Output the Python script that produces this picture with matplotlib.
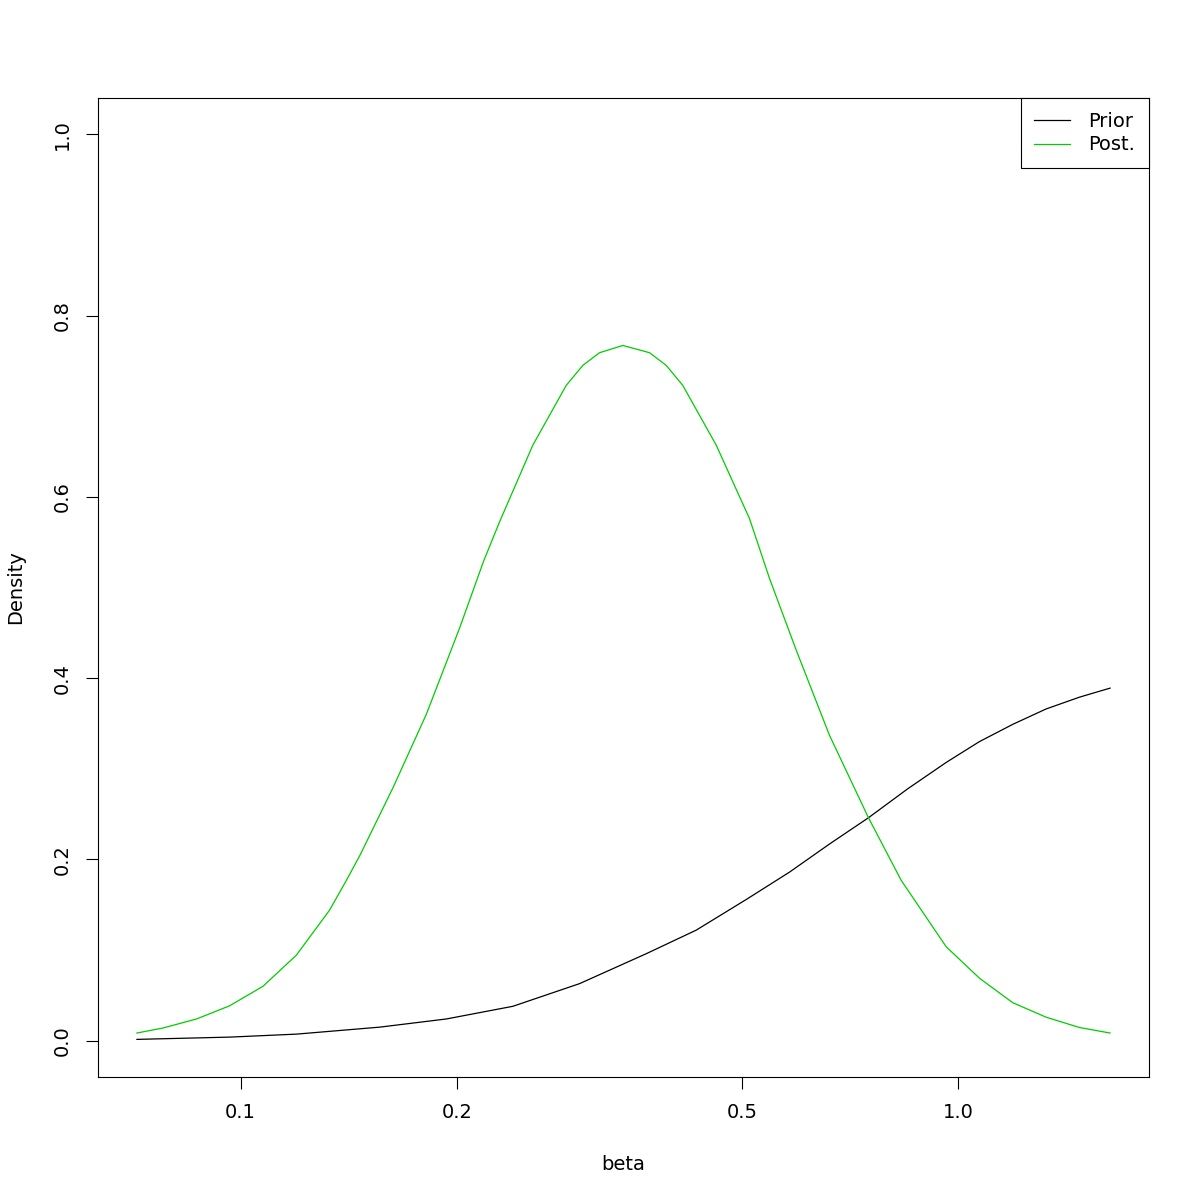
import numpy as np
import matplotlib
matplotlib.use('Agg')
import matplotlib.pyplot as plt

# Values (beta on a log axis, density)
prior_beta = [0.0717, 0.0965, 0.1196, 0.1562, 0.1934, 0.2395, 0.2966, 0.3673,
              0.4312, 0.5067, 0.5816, 0.6612, 0.7493, 0.8501, 0.9614, 1.0697,
              1.1901, 1.3247, 1.4741, 1.6265]
prior_dens = [0.0015, 0.004, 0.0073, 0.015, 0.024, 0.038, 0.063, 0.096,
              0.122, 0.156, 0.186, 0.217, 0.246, 0.278, 0.307, 0.330,
              0.349, 0.366, 0.379, 0.389]

post_beta = [0.0717, 0.0779, 0.0868, 0.0965, 0.1074, 0.1196, 0.1330, 0.1404,
             0.1465, 0.1630, 0.1814, 0.2018, 0.2180, 0.2295, 0.2553, 0.2842,
             0.2997, 0.3162, 0.3408, 0.3713, 0.3917, 0.4130, 0.4598, 0.5116,
             0.5455, 0.5949, 0.6612, 0.7493, 0.8322, 0.9614, 1.0697, 1.1901,
             1.3247, 1.4741, 1.6265]
post_dens = [0.0085, 0.014, 0.024, 0.0385, 0.060, 0.0945, 0.144, 0.177,
             0.204, 0.279, 0.360, 0.455, 0.529, 0.5725, 0.657, 0.723,
             0.745, 0.759, 0.767, 0.759, 0.745, 0.723, 0.657, 0.576,
             0.510, 0.430, 0.337, 0.246, 0.177, 0.1037, 0.069, 0.042,
             0.026, 0.0146, 0.0085]

x_ticks = [0.1, 0.2, 0.5, 1.0]
x_tick_labels = ['0.1', '0.2', '0.5', '1.0']
y_ticks = [0.0, 0.2, 0.4, 0.6, 0.8, 1.0]

plt.rcParams['font.family'] = ['DejaVu Sans']
fs = 14

fig = plt.figure(figsize=(12, 12), dpi=100)
ax = fig.add_axes([98 / 1200, 1 - 1077 / 1200, 1051 / 1200, 979 / 1200])

ax.plot(prior_beta, prior_dens, color='black', lw=0.9, label='Prior')
ax.plot(post_beta, post_dens, color='#00CD00', lw=0.9, label='Post.')

ax.set_xscale('log')
lo, hi = np.log10(min(prior_beta)), np.log10(max(prior_beta))
pad = 0.04 * (hi - lo)
ax.set_xlim(10 ** (lo - pad), 10 ** (hi + pad))
ax.set_ylim(-0.04, 1.04)

ax.set_xticks(x_ticks)
ax.set_xticklabels(x_tick_labels)
ax.xaxis.set_minor_locator(matplotlib.ticker.NullLocator())
ax.set_yticks(y_ticks)
ax.set_yticklabels(['%.1f' % v for v in y_ticks], rotation=90, va='center')

ax.tick_params(axis='both', direction='out', length=8.6, width=0.8,
               labelsize=fs, pad=10)
for s in ax.spines.values():
    s.set_linewidth(0.8)

fig.text(623.5 / 1200, 1 - 1164 / 1200, 'beta', fontsize=fs,
         ha='center', va='center')
fig.text(16 / 1200, 1 - 587.5 / 1200, 'Density', fontsize=fs,
         ha='center', va='center', rotation=90)

leg = ax.legend(loc='upper right', borderaxespad=0, fancybox=False,
                edgecolor='black', framealpha=1, fontsize=fs,
                handlelength=1.86, handletextpad=0.93, labelspacing=0.25,
                borderpad=0.7)
leg.get_frame().set_linewidth(0.8)

fig.savefig('out.png', dpi=100)
